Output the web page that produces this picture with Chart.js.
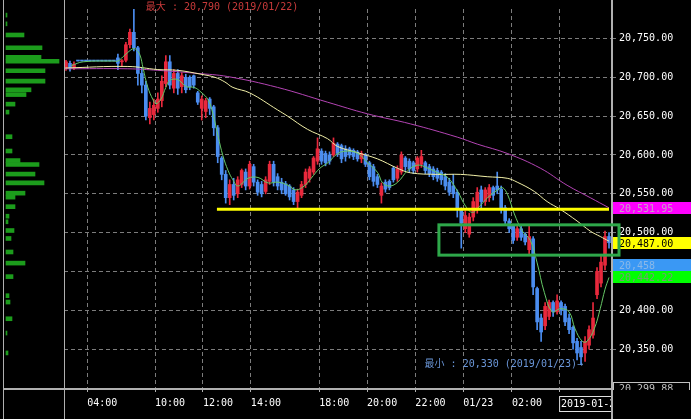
<!DOCTYPE html>
<html>
<head>
<meta charset="utf-8">
<script src="https://cdn.jsdelivr.net/npm/chart.js@4"></script>
<style>
  body { margin: 0; background: #000; }
  #wrap { position: relative; width: 691px; height: 419px; }
  canvas { position: absolute; left: 0; top: 0; }
</style>
</head>
<body>
<div id="wrap">
  <canvas id="chart" width="691" height="419"></canvas>
  <canvas id="profile" width="64" height="388"></canvas>
</div>
<script>
// 10 minute candles, one per slot
const opens = [20712, 20718, 20712, 20721, 20721, 20721, 20721, 20721, 20721, 20721, 20721, 20721, 20721, 20725, 20720, 20722, 20742, 20758, 20738, 20705,
  20690, 20648, 20652, 20660, 20670, 20692, 20720, 20686, 20705, 20688, 20700, 20700, 20702, 20680, 20660, 20656, 20672, 20662, 20635, 20596,
  20575, 20545, 20562, 20550, 20562, 20578, 20560, 20585, 20565, 20562, 20553, 20566, 20588, 20572, 20565, 20563, 20560, 20555, 20540, 20548,
  20562, 20570, 20578, 20592, 20605, 20602, 20600, 20600, 20614, 20612, 20608, 20608, 20606, 20604, 20595, 20600, 20590, 20585, 20572, 20548,
  20565, 20566, 20583, 20570, 20578, 20596, 20592, 20590, 20582, 20588, 20590, 20585, 20582, 20580, 20578, 20572, 20565, 20560, 20552, 20530,
  20505, 20498, 20520, 20530, 20555, 20540, 20545, 20558, 20560, 20556, 20532, 20515, 20508, 20494, 20505, 20498, 20478, 20492, 20428, 20390,
  20380, 20392, 20410, 20398, 20410, 20405, 20390, 20378, 20360, 20352, 20345, 20355, 20368, 20420, 20435, 20458, 20495];
const closes = [20720, 20712, 20717, 20721, 20721, 20721, 20721, 20721, 20721, 20721, 20721, 20721, 20721, 20718, 20721, 20742, 20758, 20738, 20705, 20690,
  20650, 20660, 20664, 20672, 20695, 20720, 20690, 20705, 20686, 20702, 20684, 20688, 20690, 20668, 20672, 20670, 20660, 20635, 20598, 20575,
  20545, 20562, 20548, 20568, 20580, 20560, 20588, 20565, 20552, 20550, 20568, 20588, 20565, 20560, 20555, 20550, 20546, 20540, 20552, 20562,
  20578, 20582, 20596, 20608, 20592, 20590, 20592, 20615, 20602, 20595, 20598, 20600, 20598, 20595, 20602, 20588, 20572, 20566, 20562, 20560,
  20556, 20558, 20568, 20582, 20600, 20585, 20582, 20580, 20596, 20598, 20580, 20576, 20572, 20570, 20568, 20560, 20552, 20550, 20530, 20512,
  20522, 20520, 20540, 20552, 20540, 20555, 20558, 20548, 20555, 20530, 20515, 20505, 20490, 20505, 20494, 20488, 20495, 20430, 20385, 20372,
  20405, 20410, 20398, 20412, 20400, 20385, 20375, 20358, 20345, 20340, 20360, 20375, 20390, 20450, 20462, 20495, 20487];
const highs = [20722, 20721, 20720, 20721, 20721, 20721, 20721, 20721, 20721, 20721, 20721, 20721, 20721, 20730, 20723, 20745, 20762, 20790, 20740, 20712,
  20695, 20668, 20672, 20680, 20702, 20728, 20728, 20710, 20710, 20706, 20704, 20702, 20703, 20682, 20676, 20673, 20674, 20664, 20638, 20598,
  20580, 20568, 20570, 20572, 20582, 20582, 20592, 20588, 20568, 20566, 20572, 20592, 20592, 20576, 20570, 20566, 20562, 20558, 20556, 20566,
  20582, 20585, 20598, 20622, 20608, 20605, 20604, 20622, 20616, 20614, 20612, 20610, 20608, 20606, 20605, 20602, 20592, 20588, 20575, 20564,
  20568, 20568, 20585, 20586, 20604, 20598, 20595, 20592, 20598, 20606, 20592, 20588, 20585, 20583, 20580, 20576, 20570, 20575, 20555, 20532,
  20528, 20525, 20545, 20558, 20560, 20558, 20562, 20560, 20578, 20560, 20535, 20518, 20510, 20508, 20508, 20500, 20508, 20495, 20430, 20395,
  20410, 20413, 20412, 20420, 20412, 20408, 20395, 20380, 20364, 20360, 20366, 20380, 20410, 20455, 20470, 20502, 20500];
const lows = [20709, 20708, 20710, 20721, 20721, 20721, 20721, 20721, 20721, 20721, 20721, 20721, 20721, 20710, 20714, 20720, 20738, 20734, 20690, 20680,
  20645, 20640, 20645, 20655, 20662, 20688, 20685, 20680, 20678, 20680, 20680, 20684, 20686, 20665, 20645, 20648, 20652, 20625, 20590, 20568,
  20538, 20536, 20542, 20545, 20558, 20555, 20556, 20560, 20548, 20546, 20550, 20562, 20560, 20555, 20550, 20548, 20542, 20536, 20532, 20545,
  20558, 20565, 20575, 20588, 20588, 20586, 20588, 20598, 20598, 20590, 20592, 20596, 20594, 20592, 20590, 20585, 20568, 20560, 20558, 20538,
  20552, 20555, 20565, 20566, 20575, 20580, 20578, 20576, 20578, 20584, 20576, 20572, 20568, 20566, 20562, 20555, 20548, 20545, 20520, 20480,
  20500, 20494, 20515, 20525, 20532, 20535, 20540, 20542, 20550, 20525, 20510, 20500, 20486, 20490, 20490, 20484, 20472, 20420, 20375, 20360,
  20375, 20388, 20392, 20395, 20394, 20380, 20370, 20350, 20336, 20330, 20334, 20350, 20364, 20415, 20430, 20452, 20480];

// moving averages (slot, price)
const greenSlots = [1.8, 4.8, 12.3, 13.5, 15.3, 17.3, 18, 19, 19.8, 21, 22.3, 23, 24.3, 25.5, 26.5, 28.5, 30.6, 32.6, 34.3, 36.1,
  37.3, 38.6, 39.8, 41.1, 42.3, 43.6, 46.1, 48.6, 51.1, 53.6, 56.1, 58.1, 60.4, 61.9, 64.1, 66.1, 68.6, 71.1, 73.6, 76.1,
  78.6, 79.8, 81.6, 83.6, 86.1, 88.6, 91.1, 93.6, 96.1, 98.6, 100.6, 102.3, 104.1, 106.1, 108.6, 109.8, 111.1, 112.8, 114.8, 116.8,
  118.5, 120.3, 122.3, 124.3, 126.5, 128, 129.8, 131, 132.8, 134.3, 135.5, 136.5];
const greenMA = [20715, 20720, 20721, 20721, 20729, 20737, 20736, 20729, 20712, 20687, 20671, 20666, 20672, 20687, 20696, 20697, 20688, 20687, 20681, 20671,
  20653, 20624, 20599, 20580, 20568, 20560, 20570, 20571, 20564, 20565, 20561, 20555, 20561, 20570, 20583, 20590, 20602, 20605, 20602, 20590,
  20577, 20564, 20560, 20565, 20580, 20587, 20583, 20577, 20571, 20553, 20534, 20526, 20534, 20545, 20555, 20558, 20549, 20524, 20502, 20490,
  20461, 20423, 20398, 20402, 20398, 20376, 20360, 20360, 20376, 20402, 20427, 20442.22];
const yellowSlots = [0.3, 16, 23.5, 28.5, 34.3, 37.8, 40.3, 42.3, 46.5, 53.5, 56, 61, 66, 68.5, 73.5, 78.5, 83.5, 86.8, 93.5, 99.3,
  106, 111, 113.5, 117.8, 121, 124.3, 128.5, 131.8, 134.3, 136.5];
const yellowMA = [20712, 20714, 20710, 20709, 20704, 20700, 20694, 20687, 20680, 20658, 20650, 20633, 20621, 20611, 20603, 20595, 20583, 20577, 20575, 20575,
  20572, 20570, 20565, 20553, 20540, 20530, 20515, 20502, 20495, 20489];
const magentaSlots = [0.3, 16, 23.5, 33.5, 41, 53.5, 66, 76, 86.8, 98.5, 103.5, 111, 119.3, 126, 131.8, 136.5];
const magentaMA = [20711, 20711, 20709, 20705, 20701, 20687, 20668, 20653, 20640, 20623, 20614, 20602, 20583, 20561, 20545, 20531.95];

// support line and box zone
const supportLevel = 20530;
const supportFrom = 38.3;
const zoneHigh = 20510;
const zoneLow = 20471;
const zoneFrom = 93.9;

// price labels on the right axis
const markerValues = [20531.95, 20487, 20458, 20442.22];
const markerTexts = ["20,531.95", "20,487.00", "20,458", "20,442.22"];
const markerBg = ["#ff00ff", "#ffff00", "#3a98f4", "#00ff00"];
const markerFg = ["#c8a0c8", "#000000", "#8ab8e8", "#70a070"];

// volume profile on the left
const profilePrices = [20769, 20758, 20744, 20728, 20716, 20711, 20699, 20686, 20675, 20669, 20657, 20647, 20616, 20598, 20586, 20581, 20569,
  20558, 20545, 20540, 20528, 20516, 20509, 20498, 20488, 20471, 20457, 20440, 20416, 20408, 20387, 20369, 20344];
const profileVolumes = [1, 1, 18, 36, 35, 53, 39, 39, 25, 20, 9, 3, 6, 6, 14, 33, 29,
  38, 19, 9, 9, 3, 2, 8, 5, 7, 19, 7, 3, 4, 6, 1, 2];

// axes
const yMin = 20299.88;
const yMax = 20788;
const yTicks = [20350, 20400, 20450, 20500, 20550, 20600, 20650, 20700, 20750];
const xTickPos = [5.8, 22.8, 34.8, 46.8, 63.9, 75.9, 88, 100, 112.2, 124];
const xTickLabels = ["04:00", "10:00", "12:00", "14:00", "18:00", "20:00", "22:00", "01/23", "02:00", "2019-01-23 04:00"];
const slotCount = 137;
const maxText = "最大 : 20,790 (2019/01/22)";
const minText = "最小 : 20,330 (2019/01/23)→";

const RED = "#e8283c";
const BLUE = "#4b8df0";
const MONO = '"DejaVu Sans Mono", "Noto Sans CJK JP", monospace';

const fmt = v => v.toLocaleString("en-US", { minimumFractionDigits: 2, maximumFractionDigits: 2 });
const candleColors = opens.map((o, i) => closes[i] > o ? RED : BLUE);

const pairs = (xs, ys) => xs.map((s, i) => ({ x: s, y: ys[i] }));

// frame, labels, markers and zone
const decorations = {
  id: "decorations",
  beforeDraw(chart) {
    const ctx = chart.ctx;
    ctx.save();
    ctx.fillStyle = "#000";
    ctx.fillRect(0, 0, chart.width, chart.height);
    ctx.restore();
  },
  afterDraw(chart) {
    const { ctx, chartArea: a, scales: { x, y } } = chart;
    ctx.save();

    // frame lines
    ctx.strokeStyle = "#b0b0b0";
    ctx.lineWidth = 1;
    ctx.beginPath();
    ctx.moveTo(3.5, 0); ctx.lineTo(3.5, chart.height);
    ctx.moveTo(a.left + 0.5, 0); ctx.lineTo(a.left + 0.5, chart.height);
    ctx.stroke();
    ctx.lineWidth = 2;
    ctx.beginPath();
    ctx.moveTo(3, a.bottom + 1); ctx.lineTo(a.right, a.bottom + 1);
    ctx.moveTo(a.right + 1, 0); ctx.lineTo(a.right + 1, chart.height);
    ctx.stroke();

    ctx.font = "10px " + MONO;
    ctx.textBaseline = "middle";

    // max / min annotations
    const hiIdx = highs.indexOf(Math.max(...highs));
    const loIdx = lows.indexOf(Math.min(...lows));
    ctx.fillStyle = "#c83a3a";
    ctx.textAlign = "left";
    ctx.fillText(maxText, x.getPixelForValue(hiIdx + 0.5) + 12, y.getPixelForValue(20790));
    ctx.fillStyle = "#6a96d8";
    ctx.textAlign = "right";
    ctx.fillText(minText, x.getPixelForValue(loIdx + 0.5) + 2, y.getPixelForValue(20330));

    // right axis markers
    ctx.textAlign = "left";
    markerValues.forEach((v, i) => {
      const py = Math.round(y.getPixelForValue(v));
      ctx.fillStyle = markerBg[i];
      ctx.fillRect(a.right + 2, py - 6, chart.width - a.right - 2, 12);
      ctx.fillStyle = markerFg[i];
      ctx.fillText(markerTexts[i], a.right + 8, py + 1);
    });

    // bottom value box (clipped by axis)
    ctx.save();
    ctx.beginPath();
    ctx.rect(a.right + 2, a.bottom - 8, chart.width, 10);
    ctx.clip();
    const pyMin = y.getPixelForValue(yMin);
    ctx.strokeStyle = "#c0c0c0";
    ctx.lineWidth = 1;
    ctx.strokeRect(a.right + 2.5, pyMin - 5.5, 76, 12);
    ctx.fillStyle = "#c0c0c0";
    ctx.fillText(fmt(yMin), a.right + 8, pyMin + 1);
    ctx.restore();

    // zone rectangle
    ctx.strokeStyle = "#2ea84a";
    ctx.lineWidth = 3;
    const zx = x.getPixelForValue(zoneFrom);
    const zt = y.getPixelForValue(zoneHigh);
    const zb = y.getPixelForValue(zoneLow);
    ctx.strokeRect(zx, zt, a.right + 8 - zx, zb - zt);

    // last date label in a box, cut by the right axis
    const lx = x.getPixelForValue(xTickPos[xTickPos.length - 1]);
    ctx.save();
    ctx.beginPath();
    ctx.rect(lx - 2, a.bottom + 2, a.right - lx + 2, chart.height);
    ctx.clip();
    ctx.strokeStyle = "#e0e0e0";
    ctx.lineWidth = 1;
    ctx.strokeRect(lx + 0.5, a.bottom + 8.5, 120, 15);
    ctx.fillStyle = "#fff";
    ctx.fillText(xTickLabels[xTickLabels.length - 1], lx + 2, a.bottom + 16.5);
    ctx.restore();

    ctx.restore();
  }
};

new Chart(document.getElementById("chart"), {
  type: "bar",
  data: {
    datasets: [
      {
        label: "wick",
        data: lows.map((l, i) => ({ x: i + 0.5, y: [l, highs[i]] })),
        backgroundColor: candleColors,
        grouped: false,
        categoryPercentage: 1,
        barPercentage: 1,
        maxBarThickness: 1,
        order: 5
      },
      {
        label: "body",
        data: opens.map((o, i) => ({ x: i + 0.5, y: [o, closes[i]] })),
        backgroundColor: candleColors,
        grouped: false,
        categoryPercentage: 1,
        barPercentage: 1,
        maxBarThickness: 3,
        minBarLength: 1,
        order: 4
      },
      {
        type: "line",
        label: "MA long",
        data: pairs(magentaSlots, magentaMA),
        borderColor: "#b444b4",
        borderWidth: 1,
        pointRadius: 0,
        tension: 0.4,
        order: 3
      },
      {
        type: "line",
        label: "MA mid",
        data: pairs(yellowSlots, yellowMA),
        borderColor: "#f2f0a8",
        borderWidth: 1,
        pointRadius: 0,
        tension: 0.4,
        order: 2
      },
      {
        type: "line",
        label: "MA short",
        data: pairs(greenSlots, greenMA),
        borderColor: "#66c866",
        borderWidth: 1,
        pointRadius: 0,
        tension: 0.4,
        order: 1
      },
      {
        type: "line",
        label: "support",
        data: [{ x: supportFrom, y: supportLevel }, { x: slotCount - 0.5, y: supportLevel }],
        borderColor: "#ffff00",
        borderWidth: 3,
        pointRadius: 0,
        order: 0
      }
    ]
  },
  options: {
    responsive: false,
    animation: false,
    layout: { padding: { left: 64, top: 0, right: 0, bottom: 0 } },
    plugins: { legend: { display: false }, tooltip: { enabled: false } },
    scales: {
      x: {
        type: "linear",
        offset: false,
        min: 0,
        max: slotCount,
        afterBuildTicks: s => { s.ticks = xTickPos.map(v => ({ value: v })); },
        afterFit: s => { s.height = 31; },
        ticks: {
          autoSkip: false,
          maxRotation: 0,
          align: "start",
          color: "#fff",
          padding: 5,
          font: { family: MONO, size: 10 },
          callback: (v, i) => i === xTickLabels.length - 1 ? "" : xTickLabels[i]
        },
        grid: { offset: false, color: "#7c7c7c", tickLength: 4, tickColor: "#b0b0b0" },
        border: { display: false, dash: [4, 3] }
      },
      y: {
        position: "right",
        min: yMin,
        max: yMax,
        afterBuildTicks: s => { s.ticks = yTicks.map(v => ({ value: v })); },
        afterFit: s => { s.width = 80; },
        ticks: {
          color: "#fff",
          padding: 3,
          font: { family: MONO, size: 10 },
          callback: v => fmt(v)
        },
        grid: { color: "#7c7c7c", tickLength: 5, tickColor: "#7c7c7c" },
        border: { display: false, dash: [4, 3] }
      }
    }
  },
  plugins: [decorations]
});

// volume profile panel
new Chart(document.getElementById("profile"), {
  type: "bar",
  data: {
    datasets: [{
      data: profilePrices.map((p, i) => ({ x: profileVolumes[i], y: p })),
      backgroundColor: "#1c9c1c",
      grouped: false,
      maxBarThickness: 4,
      categoryPercentage: 1,
      barPercentage: 1
    }]
  },
  options: {
    indexAxis: "y",
    responsive: false,
    animation: false,
    plugins: { legend: { display: false }, tooltip: { enabled: false } },
    scales: {
      x: { type: "linear", display: false, min: -6, max: 58 },
      y: { type: "linear", display: false, offset: false, min: yMin, max: yMax }
    }
  }
});
</script>
</body>
</html>
